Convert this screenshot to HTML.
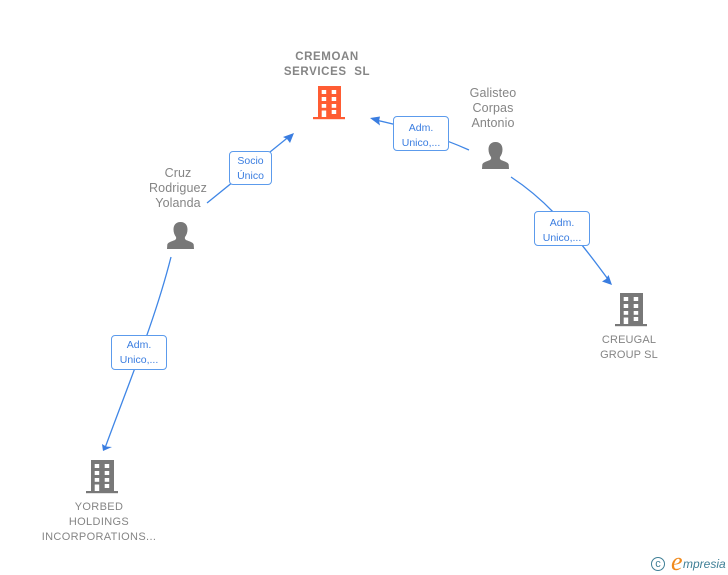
<!DOCTYPE html>
<html>
<head>
<meta charset="utf-8">
<style>
html,body{margin:0;padding:0;background:#fff;}
#c{position:relative;width:728px;height:575px;overflow:hidden;background:#fff;font-family:"Liberation Sans",sans-serif;}
.t{position:absolute;color:#858585;font-size:12.500px;letter-spacing:.1px;line-height:15px;text-align:center;white-space:nowrap;}
.s{font-size:11px;letter-spacing:.15px;}
.l{position:absolute;box-sizing:border-box;background:#fff;border:1.500px solid #5c9bec;border-radius:4px;color:#3a7de0;font-size:10.500px;line-height:15px;text-align:center;padding-top:2px;white-space:nowrap;}
svg{position:absolute;left:0;top:0;}
</style>
</head>
<body>
<div id="c">
<svg width="728" height="575" viewBox="0 0 728 575">
<defs>
<g id="b">
<rect x="5" y="0" width="23" height="31"/>
<rect x="0" y="31" width="32" height="2.200"/>
</g>
<g id="w" fill="#fff">
<rect x="8.700" y="4" width="4.500" height="4"/><rect x="18.700" y="4" width="4.500" height="4"/>
<rect x="8.700" y="11" width="4.500" height="4"/><rect x="18.700" y="11" width="4.500" height="4"/>
<rect x="8.700" y="18" width="4.500" height="3.800"/><rect x="18.700" y="18" width="4.500" height="3.800"/>
<rect x="8.700" y="24.500" width="4.500" height="6.500"/><rect x="18.700" y="24" width="4.500" height="4"/>
</g>
<path id="p" d="M13.500 0C8.500 0 6.500 3.500 6.500 7.500C6.500 10.500 7.500 13 9 15C9.500 16.500 9 17.500 7.500 18.300C4.500 19.500 1 20.300 0.300 22.500L0 27H27L26.700 22.500C26 20.300 22.500 19.500 19.500 18.300C18 17.500 17.500 16.500 18 15C19.500 13 20.500 10.500 20.500 7.500C20.500 3.500 18.500 0 13.500 0Z"/>
</defs>

<g fill="none" stroke="#3f86e6" stroke-width="1.300">
<path d="M207 203L291 135"/>
<path d="M469 150C440 137 405 126 373 119.500"/>
<path d="M511 177C540 196 565 220 610 282"/>
<path d="M171 257C155 320 130 380 105 448"/>
</g>
<g fill="#3a7de0">
<path d="M294 133L290 143L287 139L283 137Z"/>
<path d="M370 118L380 116.500L379 121L380 125.500Z"/>
<path d="M612 285L602 281.500L606 279L608.500 275Z"/>
<path d="M103 451L102 444L106 446.500L112 447Z"/>
</g>

<g transform="translate(313,86)" fill="#ff5c33"><use href="#b"/><use href="#w"/></g>
<g transform="translate(615,293)" fill="#787878"><use href="#b"/><use href="#w"/></g>
<g transform="translate(86,460)" fill="#787878"><use href="#b"/><use href="#w"/></g>
<g transform="translate(482,142)" fill="#787878"><use href="#p"/></g>
<g transform="translate(167,222)" fill="#787878"><use href="#p"/></g>
</svg>

<div class="t" style="left:267px;top:49.500px;width:120px;font-weight:bold;font-size:11.500px;letter-spacing:.6px;">CREMOAN<br>SERVICES&nbsp; SL</div>
<div class="t" style="left:433px;top:86px;width:120px;">Galisteo<br>Corpas<br>Antonio</div>
<div class="t" style="left:118px;top:166px;width:120px;">Cruz<br>Rodriguez<br>Yolanda</div>
<div class="t s" style="left:569px;top:333px;width:120px;">CREUGAL<br>GROUP SL</div>
<div class="t s" style="left:39px;top:500px;width:120px;letter-spacing:.35px;">YORBED<br>HOLDINGS<br>INCORPORATIONS...</div>

<div class="l" style="left:393px;top:116px;width:56px;height:35px;padding-top:4px;">Adm.<br>Unico,...</div>
<div class="l" style="left:229px;top:151px;width:43px;height:34px;">Socio<br>Único</div>
<div class="l" style="left:534px;top:211px;width:56px;height:35px;padding-top:4px;">Adm.<br>Unico,...</div>
<div class="l" style="left:111px;top:335px;width:56px;height:35px;">Adm.<br>Unico,...</div>

<div style="position:absolute;left:651px;top:557px;width:12px;height:12px;border:1.500px solid #3f7f96;border-radius:50%;color:#3f7f96;font-size:11px;line-height:12px;text-align:center;">c</div>
<div style="position:absolute;left:671px;top:549px;color:#f08a1d;font-family:'Liberation Serif',serif;font-style:italic;font-size:26px;line-height:26px;">e</div>
<div style="position:absolute;left:683px;top:556px;color:#3f7f96;font-family:'Liberation Sans',sans-serif;font-style:italic;font-size:12px;line-height:16px;">mpresia</div>
</div>
</body>
</html>
